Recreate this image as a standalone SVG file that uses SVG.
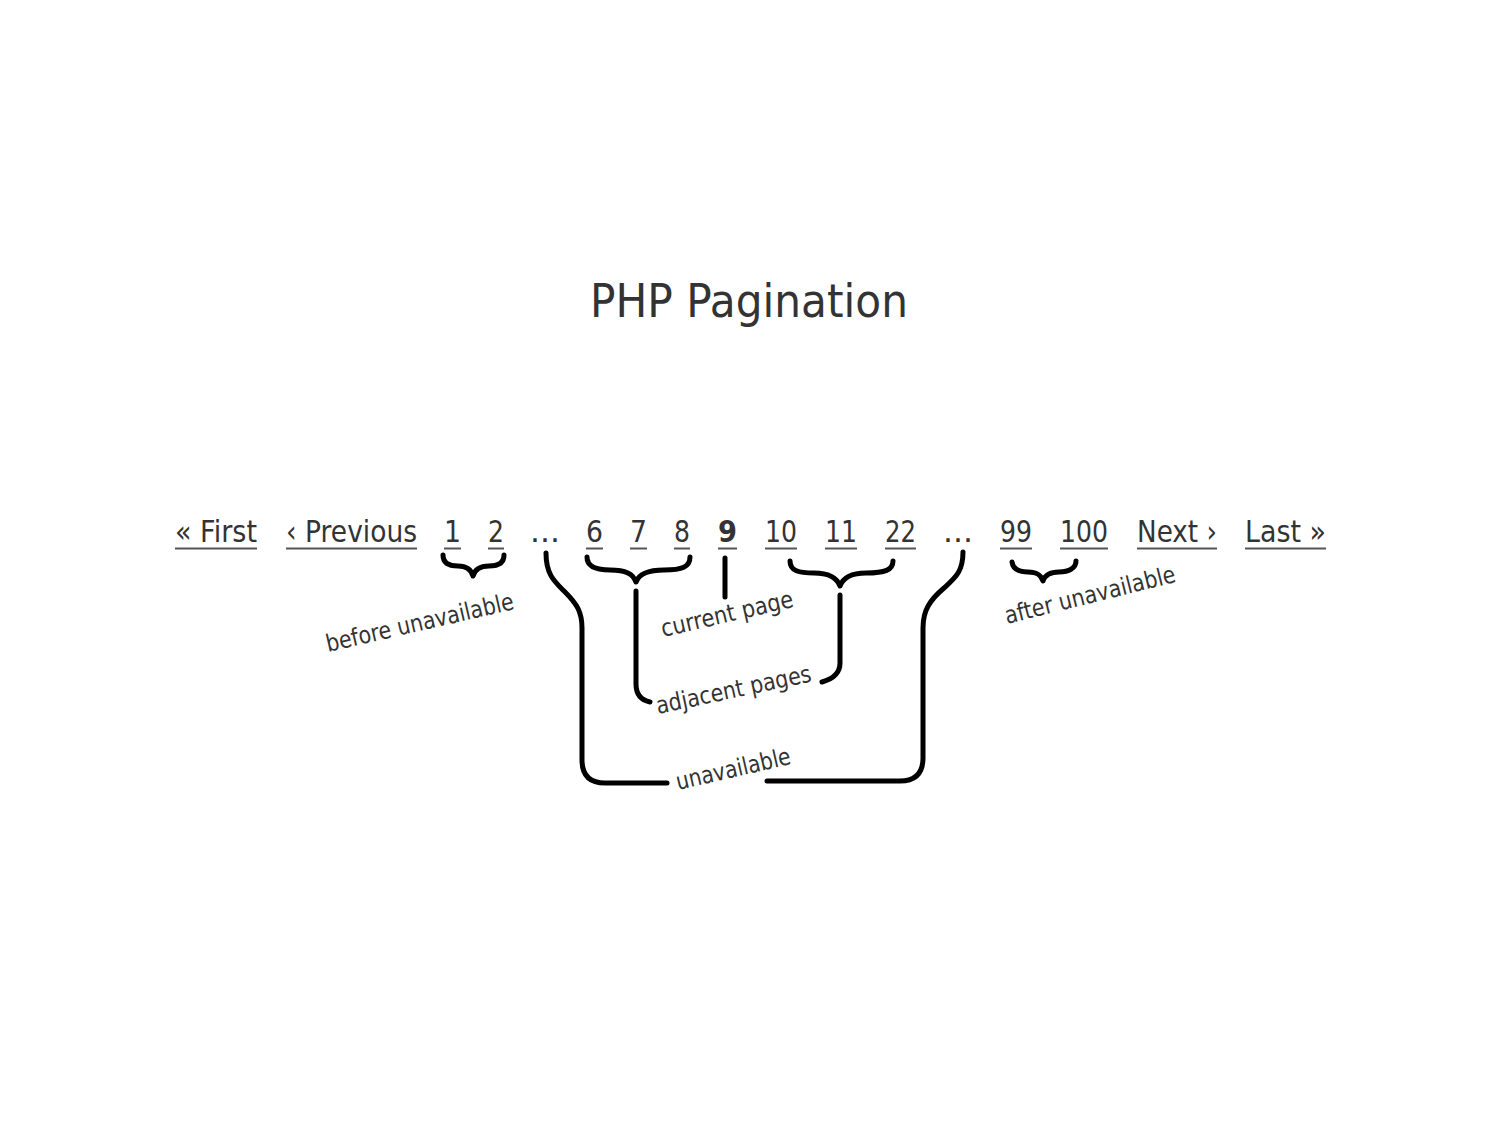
<svg xmlns="http://www.w3.org/2000/svg" width="1500" height="1125" viewBox="0 0 1500 1125">
<style>
  .t{font-family:"DejaVu Sans","Liberation Sans",sans-serif;fill:#333}
  .nav{font-size:30px}
  .lbl{font-size:24px}
  .ul{stroke:#555;stroke-width:2;fill:none}
  .c{stroke:#000;stroke-width:5;fill:none;stroke-linecap:round;stroke-linejoin:round}
</style>
<rect width="1500" height="1125" fill="#fff"/>
<g id="title"><text class="t" x="590" y="317" font-size="47" textLength="318" lengthAdjust="spacingAndGlyphs">PHP Pagination</text></g>
<g id="nav">
  <g id="first"><text class="t nav" x="175" y="542" textLength="82" lengthAdjust="spacingAndGlyphs">« First</text><line class="ul" x1="175" y1="548.5" x2="257" y2="548.5"/></g>
  <g id="previous"><text class="t nav" x="286" y="542" textLength="131" lengthAdjust="spacingAndGlyphs">‹ Previous</text><line class="ul" x1="286" y1="548.5" x2="417" y2="548.5"/></g>
  <g id="p1"><text class="t nav" x="444" y="542" textLength="17" lengthAdjust="spacingAndGlyphs">1</text><line class="ul" x1="444" y1="548.5" x2="461" y2="548.5"/></g>
  <g id="p2"><text class="t nav" x="488" y="542" textLength="16" lengthAdjust="spacingAndGlyphs">2</text><line class="ul" x1="488" y1="548.5" x2="504" y2="548.5"/></g>
  <g id="dots1"><text class="t nav" x="530" y="542" textLength="30" lengthAdjust="spacingAndGlyphs">...</text></g>
  <g id="p6"><text class="t nav" x="586" y="542" textLength="17" lengthAdjust="spacingAndGlyphs">6</text><line class="ul" x1="586" y1="548.5" x2="603" y2="548.5"/></g>
  <g id="p7"><text class="t nav" x="630" y="542" textLength="17" lengthAdjust="spacingAndGlyphs">7</text><line class="ul" x1="630" y1="548.5" x2="647" y2="548.5"/></g>
  <g id="p8"><text class="t nav" x="674" y="542" textLength="16" lengthAdjust="spacingAndGlyphs">8</text><line class="ul" x1="674" y1="548.5" x2="690" y2="548.5"/></g>
  <g id="p9"><text class="t nav" x="718" y="542" font-weight="bold" textLength="19" lengthAdjust="spacingAndGlyphs">9</text><line class="ul" x1="718" y1="548.5" x2="737" y2="548.5"/></g>
  <g id="p10"><text class="t nav" x="765" y="542" textLength="32" lengthAdjust="spacingAndGlyphs">10</text><line class="ul" x1="765" y1="548.5" x2="797" y2="548.5"/></g>
  <g id="p11"><text class="t nav" x="825" y="542" textLength="32" lengthAdjust="spacingAndGlyphs">11</text><line class="ul" x1="825" y1="548.5" x2="857" y2="548.5"/></g>
  <g id="p22"><text class="t nav" x="885" y="542" textLength="31" lengthAdjust="spacingAndGlyphs">22</text><line class="ul" x1="885" y1="548.5" x2="916" y2="548.5"/></g>
  <g id="dots2"><text class="t nav" x="943" y="542" textLength="30" lengthAdjust="spacingAndGlyphs">...</text></g>
  <g id="p99"><text class="t nav" x="1000" y="542" textLength="32" lengthAdjust="spacingAndGlyphs">99</text><line class="ul" x1="1000" y1="548.5" x2="1032" y2="548.5"/></g>
  <g id="p100"><text class="t nav" x="1060" y="542" textLength="48" lengthAdjust="spacingAndGlyphs">100</text><line class="ul" x1="1060" y1="548.5" x2="1108" y2="548.5"/></g>
  <g id="next"><text class="t nav" x="1137" y="542" textLength="80" lengthAdjust="spacingAndGlyphs">Next ›</text><line class="ul" x1="1137" y1="548.5" x2="1217" y2="548.5"/></g>
  <g id="last"><text class="t nav" x="1245" y="542" textLength="81" lengthAdjust="spacingAndGlyphs">Last »</text><line class="ul" x1="1245" y1="548.5" x2="1326" y2="548.5"/></g>
</g>
<g id="connectors">
  <path class="c" d="M443,555 C443,563 449,566 458,566 C466,566 471,569 473,576 C475,569 480,566 489,566 C498,566 504,563 504,555"/>
  <path class="c" d="M587,557 C587,567 596,570 610,570 C626,570 633,574 636,582 C639,574 648,570 664,570 C682,570 690,567 690,557"/>
  <path class="c" d="M790,561 C790,571 799,573 814,573 C830,573 837,578 840,586 C843,578 850,573 866,573 C885,573 893,570 893,561"/>
  <path class="c" d="M1012,562 C1013,570 1020,572 1028,572 C1037,572 1041,575 1043,581 C1045,575 1050,572 1059,572 C1069,572 1076,568 1076,561"/>
  <path class="c" d="M725,558 L725,597"/>
  <path class="c" d="M636,591 L636,684 Q636,699 650,702"/>
  <path class="c" d="M840,595 L840,663 Q840,677 822,682"/>
  <path class="c" d="M546,553 C546,575 555,582 565,592 C577,604 582,612 582,628 L582,760 Q582,783 605,783 L667,783"/>
  <path class="c" d="M963,552 C963,572 955,578 944,588 C930,600 923,610 923,628 L923,758 Q923,781 900,781 L767,781"/>
</g>
<g id="labels">
  <g id="lbl-before"><text class="t lbl" transform="translate(328,652) rotate(-13)" textLength="192" lengthAdjust="spacingAndGlyphs">before unavailable</text></g>
  <g id="lbl-current"><text class="t lbl" transform="translate(663,637) rotate(-13)" textLength="135" lengthAdjust="spacingAndGlyphs">current page</text></g>
  <g id="lbl-adjacent"><text class="t lbl" transform="translate(658,714) rotate(-12)" textLength="158" lengthAdjust="spacingAndGlyphs">adjacent pages</text></g>
  <g id="lbl-unavailable"><text class="t lbl" transform="translate(678,790) rotate(-13)" textLength="117" lengthAdjust="spacingAndGlyphs">unavailable</text></g>
  <g id="lbl-after"><text class="t lbl" transform="translate(1007,624) rotate(-14)" textLength="175" lengthAdjust="spacingAndGlyphs">after unavailable</text></g>
</g>
</svg>
